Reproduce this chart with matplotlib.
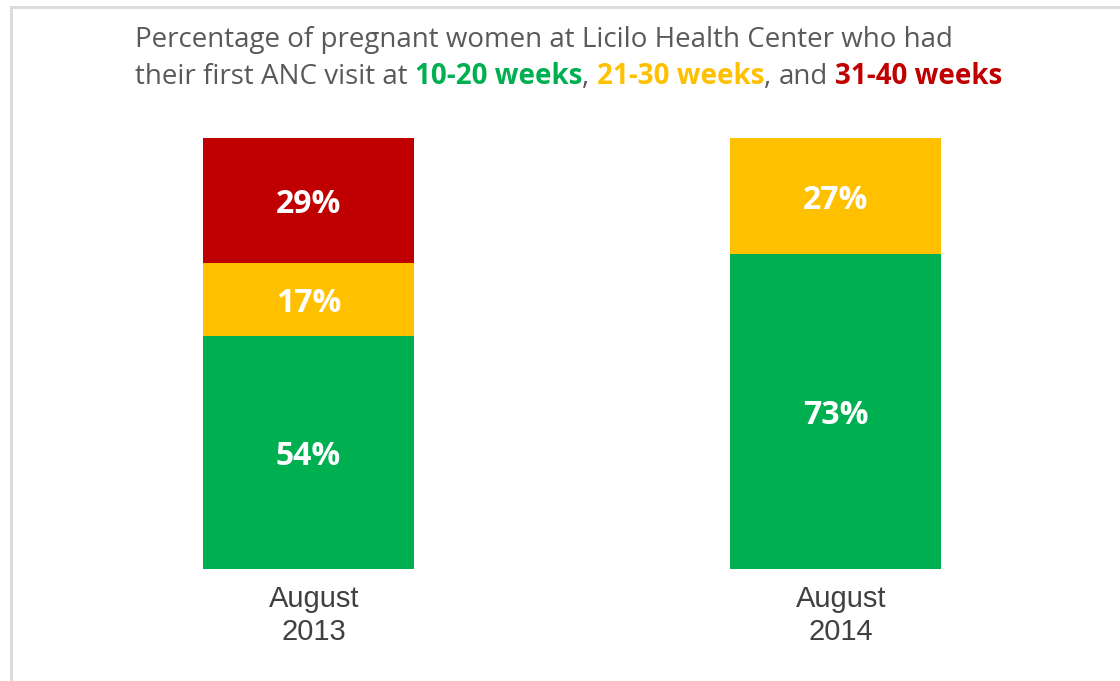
import matplotlib
matplotlib.use("Agg")
import matplotlib.pyplot as plt
from matplotlib.lines import Line2D

# data
periods = ["August\n2013", "August\n2014"]
weeks_10_20 = [54, 73]
weeks_21_30 = [17, 27]
weeks_31_40 = [29, 0]

green = "#00B050"
yellow = "#FFC000"
red = "#C00000"
gray = "#595959"

W, H = 1120, 681
fig = plt.figure(figsize=(W / 100, H / 100), dpi=100)
fig.patch.set_facecolor("white")

# bar area: centres at 308.5 and 835.5 px, bottom 568.5 px, 100% at 138 px
unit = 527.0
x_left = -308.5 / unit
x_right = (W - 308.5) / unit
ax_bottom = (H - 568.5) / H
ax_top = (H - 138) / H
ax = fig.add_axes([0, ax_bottom, 1, ax_top - ax_bottom])
ax.set_xlim(x_left, x_right)
ax.set_ylim(0, 100)
ax.axis("off")

x = list(range(len(periods)))
b1 = ax.bar(x, weeks_10_20, width=0.4, color=green)
b2 = ax.bar(x, weeks_21_30, width=0.4, bottom=weeks_10_20, color=yellow)
bottom3 = [a + b for a, b in zip(weeks_10_20, weeks_21_30)]
b3 = ax.bar(x, weeks_31_40, width=0.4, bottom=bottom3, color=red)

for bars, vals in [(b1, weeks_10_20), (b2, weeks_21_30), (b3, weeks_31_40)]:
    for rect, v in zip(bars, vals):
        if v <= 0:
            continue
        ax.annotate(f"{v}%", (rect.get_x() + rect.get_width() / 2, rect.get_y() + rect.get_height() / 2),
                    xytext=(0, -3), textcoords="offset points",
                    ha="center", va="center", color="white",
                    fontsize=23, fontweight="bold", family="Open Sans")

# category labels
for xi, lab in zip(x, periods):
    ax.text(xi + 0.01, -3.8, lab, ha="center", va="top", fontsize=21, color="#404040",
            family="Liberation Sans", linespacing=1.22,
            transform=ax.transData)

# border lines (light gray frame on top and left)
fig.add_artist(Line2D([11 / W, 11 / W], [0, 1 - 7 / H], color="#D9D9D9", lw=2))
fig.add_artist(Line2D([11 / W, 1], [1 - 7 / H, 1 - 7 / H], color="#D9D9D9", lw=2))

# title made of coloured pieces
renderer = fig.canvas.get_renderer()
tfont = dict(family="Open Sans", fontsize=20)


def width_of(s, weight="normal"):
    t = fig.text(0, 0, s, fontweight=weight, **tfont)
    w = t.get_window_extent(renderer).width
    t.remove()
    return w


space = width_of("a a") - width_of("aa")

line1 = [("Percentage of pregnant women at Licilo Health Center who had", gray, "normal")]
line2 = [("their first ANC visit at", gray, "normal"), (" ", None, None),
         ("10-20 weeks", green, "bold"), (",", gray, "normal"), (" ", None, None),
         ("21-30 weeks", yellow, "bold"), (",", gray, "normal"), (" ", None, None),
         ("and", gray, "normal"), (" ", None, None),
         ("31-40 weeks", red, "bold")]

for pieces, base_y in [(line1, 47), (line2, 84)]:
    px = 135.0
    for s, c, wt in pieces:
        if c is None:
            px += space
            continue
        fig.text(px / W, 1 - base_y / H, s, color=c, fontweight=wt, va="baseline",
                 ha="left", **tfont)
        px += width_of(s, wt)

fig.savefig("out.png", dpi=100, facecolor="white")
